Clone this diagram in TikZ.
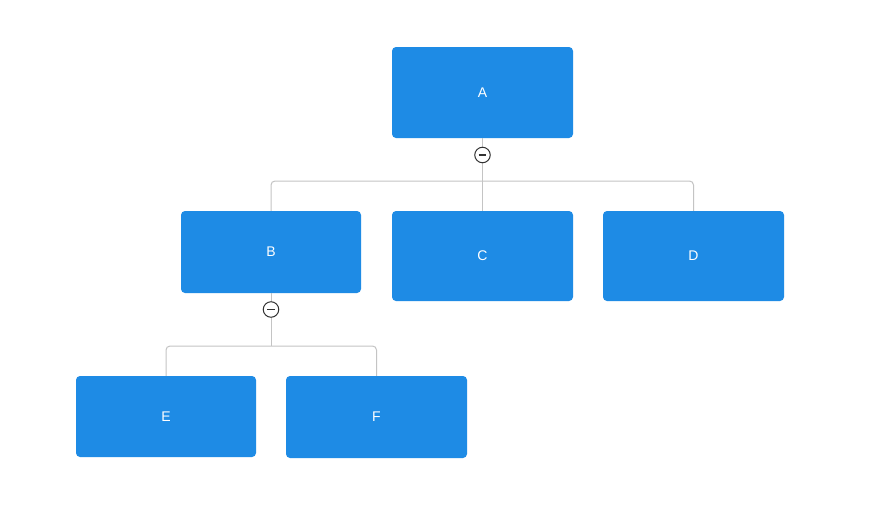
\documentclass[tikz,border=0pt]{standalone}
\usepackage{fontspec}
\setmainfont{Liberation Sans}
\definecolor{nodeblue}{HTML}{1E8BE5}
\definecolor{linegray}{HTML}{C4C4C4}
\definecolor{icongray}{HTML}{333333}
\tikzset{
  box/.style={draw=none, fill=nodeblue, rounded corners=4pt, text=white, font=\fontsize{14}{16}\selectfont, inner sep=0pt, anchor=center},
  link/.style={draw=linegray, line width=1pt, rounded corners=4pt},
  toggle/.style={circle, draw=icongray, fill=white, line width=1pt, minimum size=15.5pt, inner sep=0pt},
  minus/.style={icongray, line width=1.5pt},
}
\begin{document}
\begin{tikzpicture}[x=1pt,y=-1pt]
\useasboundingbox[fill=white] (0,0) rectangle (871,512);
\node[box, minimum width=181pt, minimum height=91pt] (A) at (482.5,92.5) {\raisebox{-1pt}{A}};
\node[box, minimum width=180pt, minimum height=82pt] (B) at (271,252) {\raisebox{-1pt}{B}};
\node[box, minimum width=181pt, minimum height=90pt] (C) at (482.5,256) {\raisebox{-1pt}{C}};
\node[box, minimum width=181pt, minimum height=90pt] (D) at (693.5,256) {\raisebox{-1pt}{D}};
\node[box, minimum width=180pt, minimum height=81pt] (E) at (166,416.5) {\raisebox{-1pt}{E}};
\node[box, minimum width=181pt, minimum height=82pt] (F) at (376.5,417) {\raisebox{-1pt}{F}};
\coordinate (jA) at (482.5,181);
\coordinate (jB) at (271,346);
\draw[link] (A.south) -- (jA);
\draw[link] (B.north) |- (jA) -| (D.north);
\draw[link] (jA) -- (C.north);
\draw[link] (B.south) -- (jB);
\draw[link] (E.north) |- (jB) -| (F.north);
\node[toggle] (tA) at (482.5,155) {};
\node[toggle] (tB) at (271,309.5) {};
\draw[minus] ([xshift=-3.8pt]tA.center) -- ([xshift=3.8pt]tA.center);
\draw[minus] ([xshift=-3.8pt]tB.center) -- ([xshift=3.8pt]tB.center);
\end{tikzpicture}
\end{document}
